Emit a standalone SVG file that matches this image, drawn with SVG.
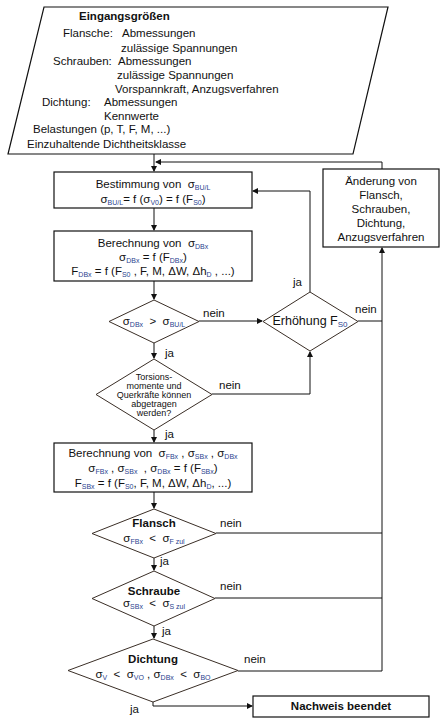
<svg xmlns="http://www.w3.org/2000/svg" width="443" height="727" viewBox="0 0 443 727">
<style>
text{font-family:"Liberation Sans",Arial,sans-serif;font-size:11.5px;fill:#111;white-space:pre}
.b{font-weight:bold}
.c{text-anchor:middle}
.s{font-size:7px;fill:#2a3f8f}
.sm{font-size:9px}
.box{fill:#fff;stroke:#111;stroke-width:1.2}
.dia{fill:#fff;stroke:#3a2e26;stroke-width:1}
.ln{fill:none;stroke:#111;stroke-width:1}
</style>
<defs>
<marker id="ah" markerWidth="6" markerHeight="6" refX="5" refY="3" orient="auto" markerUnits="userSpaceOnUse">
<path d="M0,0 L6,3 L0,6 z" fill="#111"/>
</marker>
</defs>
<rect width="443" height="727" fill="#fff"/>
<g id="connectors">
<path class="ln" d="M154,154 V171" marker-end="url(#ah)"/>
<path class="ln" d="M382,169 V162 H156" marker-end="url(#ah)"/>
<path class="ln" d="M154,208 V230" marker-end="url(#ah)"/>
<path class="ln" d="M154,281 V299" marker-end="url(#ah)"/>
<path class="ln" d="M199,321 H262" marker-end="url(#ah)"/>
<path class="ln" d="M310,292 V191 H253" marker-end="url(#ah)"/>
<path class="ln" d="M358,321 H382"/>
<path class="ln" d="M154,343 V358" marker-end="url(#ah)"/>
<path class="ln" d="M212,394 H310 V352" marker-end="url(#ah)"/>
<path class="ln" d="M154,430 V442" marker-end="url(#ah)"/>
<path class="ln" d="M154,492 V508" marker-end="url(#ah)"/>
<path class="ln" d="M216,533 H382"/>
<path class="ln" d="M154,558 V570" marker-end="url(#ah)"/>
<path class="ln" d="M215,598 H382"/>
<path class="ln" d="M154,626 V638" marker-end="url(#ah)"/>
<path class="ln" d="M238,671 H382 V248" marker-end="url(#ah)"/>
<path class="ln" d="M153,702 V706 H252" marker-end="url(#ah)"/>
<text x="203" y="317">nein</text>
<text x="293" y="286">ja</text>
<text x="355" y="313">nein</text>
<text x="165" y="357">ja</text>
<text x="219" y="389">nein</text>
<text x="165" y="438">ja</text>
<text x="220" y="527">nein</text>
<text x="160" y="565">ja</text>
<text x="220" y="590">nein</text>
<text x="162" y="635">ja</text>
<text x="244" y="663">nein</text>
<text x="130" y="713">ja</text>
</g>
<g id="input">
<polygon class="box" points="44,7 388,7 353,154 8,154"/>
<text class="b" x="79" y="20">Eingangsgrößen</text>
<text x="63" y="37">Flansche:</text>
<text x="122" y="37">Abmessungen</text>
<text x="121" y="52">zulässige Spannungen</text>
<text x="53" y="65">Schrauben:</text>
<text x="118" y="65">Abmessungen</text>
<text x="117" y="79">zulässige Spannungen</text>
<text x="115" y="93">Vorspannkraft, Anzugsverfahren</text>
<text x="42" y="106">Dichtung:</text>
<text x="104" y="106">Abmessungen</text>
<text x="104" y="120">Kennwerte</text>
<text x="33" y="133">Belastungen (p, T, F, M, ...)</text>
<text x="27" y="148">Einzuhaltende Dichtheitsklasse</text>
</g>
<g id="bestimmung">
<rect class="box" x="54" y="172" width="198" height="36"/>
<text class="c" x="153" y="188">Bestimmung von  σ<tspan class="s" dy="2">BU/L</tspan></text>
<text class="c" x="153" y="203">σ<tspan class="s" dy="2">BU/L</tspan><tspan dy="-2">= f (σ</tspan><tspan class="s" dy="2">V0</tspan><tspan dy="-2">) = f (F</tspan><tspan class="s" dy="2">S0</tspan><tspan dy="-2">)</tspan></text>
</g>
<g id="berechnung1">
<rect class="box" x="54" y="231" width="198" height="50"/>
<text class="c" x="153" y="247">Berechnung von  σ<tspan class="s" dy="2">DBx</tspan></text>
<text class="c" x="153" y="261">σ<tspan class="s" dy="2">DBx</tspan><tspan dy="-2"> = f (F</tspan><tspan class="s" dy="2">DBx</tspan><tspan dy="-2">)</tspan></text>
<text class="c" x="153" y="275">F<tspan class="s" dy="2">DBx</tspan><tspan dy="-2"> = f (F</tspan><tspan class="s" dy="2">S0</tspan><tspan dy="-2"> , F, M, ΔW, Δh</tspan><tspan class="s" dy="2">D</tspan><tspan dy="-2"> , ...)</tspan></text>
</g>
<g id="check1">
<polygon class="dia" points="154,300 199,321.5 154,343 109,321.5"/>
<text class="c" x="154" y="325">σ<tspan class="s" dy="2">DBx</tspan><tspan dy="-2">  &gt;  σ</tspan><tspan class="s" dy="2">BU/L</tspan></text>
</g>
<g id="erhoehung">
<polygon class="dia" points="310,292 358,321.5 310,351 263,321.5"/>
<text class="c" x="310" y="325" style="font-size:12.5px">Erhöhung F<tspan class="s" dy="2" style="font-size:8px">S0</tspan></text>
</g>
<g id="aenderung">
<rect class="box" x="323" y="169" width="116" height="78"/>
<text class="c" x="381" y="185">Änderung von</text>
<text class="c" x="381" y="199">Flansch,</text>
<text class="c" x="381" y="213">Schrauben,</text>
<text class="c" x="381" y="227">Dichtung,</text>
<text class="c" x="381" y="241">Anzugsverfahren</text>
</g>
<g id="torsion">
<polygon class="dia" points="154,359 212,394.5 154,430 96,394.5"/>
<text class="c sm" x="154" y="380">Torsions-</text>
<text class="c sm" x="154" y="389">momente und</text>
<text class="c sm" x="154" y="398">Querkräfte können</text>
<text class="c sm" x="154" y="407">abgetragen</text>
<text class="c sm" x="154" y="416">werden?</text>
</g>
<g id="berechnung2">
<rect class="box" x="54" y="443" width="198" height="49"/>
<text class="c" x="153" y="457">Berechnung von  σ<tspan class="s" dy="2">FBx</tspan><tspan dy="-2"> , σ</tspan><tspan class="s" dy="2">SBx</tspan><tspan dy="-2"> , σ</tspan><tspan class="s" dy="2">DBx</tspan></text>
<text class="c" x="153" y="472">σ<tspan class="s" dy="2">FBx</tspan><tspan dy="-2"> , σ</tspan><tspan class="s" dy="2">SBx</tspan><tspan dy="-2">  , σ</tspan><tspan class="s" dy="2">DBx</tspan><tspan dy="-2"> = f (F</tspan><tspan class="s" dy="2">SBx</tspan><tspan dy="-2">)</tspan></text>
<text class="c" x="153" y="487">F<tspan class="s" dy="2">SBx</tspan><tspan dy="-2"> = f (F</tspan><tspan class="s" dy="2">S0</tspan><tspan dy="-2">, F, M, ΔW, Δh</tspan><tspan class="s" dy="2">D</tspan><tspan dy="-2">, ...)</tspan></text>
</g>
<g id="flansch">
<polygon class="dia" points="154,509 216,533.5 154,558 92,533.5"/>
<text class="c b" x="154" y="527">Flansch</text>
<text class="c" x="154" y="542">σ<tspan class="s" dy="2">FBx</tspan><tspan dy="-2">  &lt;  σ</tspan><tspan class="s" dy="2">F zul</tspan></text>
</g>
<g id="schraube">
<polygon class="dia" points="154,571 215,598.5 154,626 92,598.5"/>
<text class="c b" x="154" y="595">Schraube</text>
<text class="c" x="154" y="607">σ<tspan class="s" dy="2">SBx</tspan><tspan dy="-2">  &lt;  σ</tspan><tspan class="s" dy="2">S zul</tspan></text>
</g>
<g id="dichtung">
<polygon class="dia" points="153,639 238,670.5 153,702 68,670.5"/>
<text class="c b" x="153" y="663">Dichtung</text>
<text class="c" x="153" y="678">σ<tspan class="s" dy="2">V</tspan><tspan dy="-2">  &lt;  σ</tspan><tspan class="s" dy="2">VO</tspan><tspan dy="-2"> , σ</tspan><tspan class="s" dy="2">DBx</tspan><tspan dy="-2">  &lt;  σ</tspan><tspan class="s" dy="2">BO</tspan></text>
</g>
<g id="nachweis">
<rect class="box" x="253" y="696" width="176" height="21"/>
<text class="c b" x="341" y="710">Nachweis beendet</text>
</g>
</svg>
